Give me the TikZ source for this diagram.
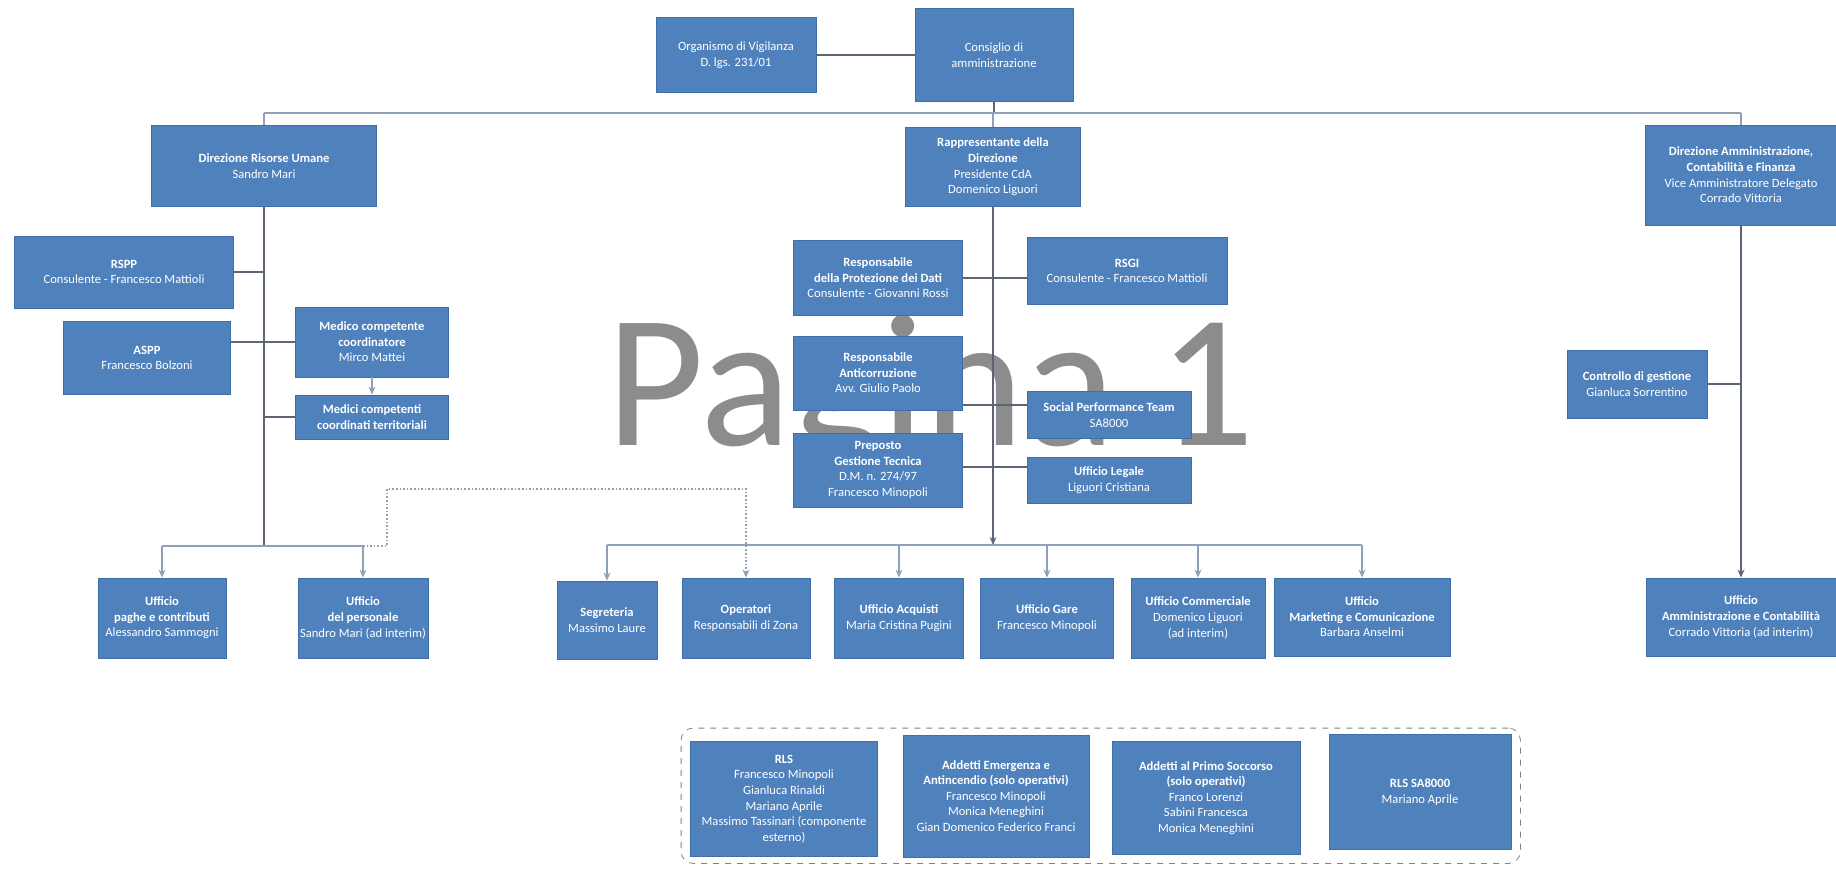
\documentclass[tikz,border=0pt]{standalone}
\usepackage{fontspec}
\setmainfont{Carlito}
\usepackage{tikz}
\usetikzlibrary{arrows.meta,calc,fit}
\definecolor{boxfill}{HTML}{4F81BD}
\definecolor{boxline}{HTML}{3F6FA6}
\definecolor{wirecol}{HTML}{5B6573}
\definecolor{buscol}{HTML}{8FA0B8}
\definecolor{wmcol}{HTML}{8C8C8C}
\tikzset{
	org chart/.style={
		x=.5pt, y=-.5pt,
		box/.style={draw=boxline, fill=boxfill, text=white, align=center,
			inner sep=1pt, font=\fontsize{6.3}{7.8}\selectfont},
		wire/.style={draw=wirecol, line width=.8pt},
		bus/.style={draw=buscol, line width=.8pt},
		ar/.style={-{Stealth[length=4pt,width=3.4pt]}},
		dots/.style={draw=buscol, line width=.8pt, densely dotted},
		group/.style={draw=wirecol!80, dashed, rounded corners=6pt,
			inner xsep=4.5pt, inner ysep=3pt},
		watermark/.style={text=wmcol, font=\fontsize{95}{95}\selectfont, inner sep=0pt}
		},
	wh/.style 2 args={minimum width=#1*.5pt, minimum height=#2*.5pt}
}

\begin{document}
\begin{tikzpicture}[org chart]
	\useasboundingbox (0,0) rectangle (1836,868);
	\node[watermark, anchor=base west] (wm) at (606,445) {Pagina 1};
	% vertice
	\node[box, wh={160}{75}] (odv) at (736,55) {Organismo di Vigilanza\\D. lgs. 231/01};
	\node[box, wh={158}{93}] (cda) at (994,55) {Consiglio di\\amministrazione};
	\node[box, wh={225}{81}] (dru) at (264,166) {\textbf{Direzione Risorse Umane}\\Sandro Mari};
	\node[box, wh={175}{79}] (rd) at (993,167) {\textbf{Rappresentante della}\\\textbf{Direzione}\\Presidente CdA\\Domenico Liguori};
	\node[box, wh={192}{100}] (dam) at (1741,175) {\textbf{Direzione Amministrazione,}\\\textbf{Contabilità e Finanza}\\Vice Amministratore Delegato\\Corrado Vittoria};
	% staff risorse umane
	\node[box, wh={219}{72}] (rspp) at (124,272) {\textbf{RSPP}\\Consulente - Francesco Mattioli};
	\node[box, wh={167}{73}] (aspp) at (147,358) {\textbf{ASPP}\\Francesco Bolzoni};
	\node[box, wh={153}{70}] (med) at (372,342) {\textbf{Medico competente}\\\textbf{coordinatore}\\Mirco Mattei};
	\node[box, wh={153}{44}] (medici) at (372,417) {\textbf{Medici competenti}\\\textbf{coordinati territoriali}};
	% staff direzione
	\node[box, wh={169}{75}] (rpd) at (878,278) {\textbf{Responsabile}\\\textbf{della Protezione dei Dati}\\Consulente - Giovanni Rossi};
	\node[box, wh={200}{67}] (rsgi) at (1127,271) {\textbf{RSGI}\\Consulente - Francesco Mattioli};
	\node[box, wh={169}{74}] (anti) at (878,373) {\textbf{Responsabile}\\\textbf{Anticorruzione}\\Avv. Giulio Paolo};
	\node[box, wh={164}{47}] (sp) at (1109,415) {\textbf{Social Performance Team}\\SA8000};
	\node[box, wh={169}{74}] (prep) at (878,470) {\textbf{Preposto}\\\textbf{Gestione Tecnica}\\D.M. n. 274/97\\Francesco Minopoli};
	\node[box, wh={164}{46}] (leg) at (1109,480) {\textbf{Ufficio Legale}\\Liguori Cristiana};
	\node[box, wh={140}{68}] (cdg) at (1637,384) {\textbf{Controllo di gestione}\\Gianluca Sorrentino};
	% uffici
	\node[box, wh={128}{80}] (paghe) at (162,618) {\textbf{Ufficio}\\\textbf{paghe e contributi}\\Alessandro Sammogni};
	\node[box, wh={124}{80}] (pers) at (363,618) {\textbf{Ufficio}\\\textbf{del personale}\\Sandro Mari (ad interim)};
	\node[box, wh={100}{78}] (seg) at (607,620) {\textbf{Segreteria}\\Massimo Laure};
	\node[box, wh={128}{80}] (op) at (746,618) {\textbf{Operatori}\\Responsabili di Zona};
	\node[box, wh={129}{80}] (acq) at (899,618) {\textbf{Ufficio Acquisti}\\Maria Cristina Pugini};
	\node[box, wh={133}{80}] (gare) at (1047,618) {\textbf{Ufficio Gare}\\Francesco Minopoli};
	\node[box, wh={134}{80}] (comm) at (1198,618) {\textbf{Ufficio Commerciale}\\Domenico Liguori\\(ad interim)};
	\node[box, wh={176}{78}] (mkt) at (1362,617) {\textbf{Ufficio}\\\textbf{Marketing e Comunicazione}\\Barbara Anselmi};
	\node[box, wh={190}{78}] (uam) at (1741,617) {\textbf{Ufficio}\\\textbf{Amministrazione e Contabilità}\\Corrado Vittoria (ad interim)};
	% sicurezza
	\node[box, wh={187}{115}] (rls) at (784,799) {\textbf{RLS}\\Francesco Minopoli\\Gianluca Rinaldi\\Mariano Aprile\\Massimo Tassinari (componente\\esterno)};
	\node[box, wh={186}{122}] (ae) at (996,796) {\textbf{Addetti Emergenza e}\\\textbf{Antincendio (solo operativi)}\\Francesco Minopoli\\Monica Meneghini\\Gian Domenico Federico Franci};
	\node[box, wh={188}{113}] (aps) at (1206,798) {\textbf{Addetti al Primo Soccorso}\\\textbf{(solo operativi)}\\Franco Lorenzi\\Sabini Francesca\\Monica Meneghini};
	\node[box, wh={182}{115}] (rlssa) at (1420,792) {\textbf{RLS SA8000}\\Mariano Aprile};
	\node[group, fit=(rls) (ae) (aps) (rlssa)] (sic) {};

	\coordinate (tbus) at (0,113);
	\coordinate (lbus) at (0,546);
	\coordinate (cbus) at (0,545);
	\coordinate (dt) at (387,489);
	\draw[wire] (odv.east) -- (cda.west);
	\draw[wire] (cda.south) -- (cda.south |- tbus);
	\draw[bus] (dru.north |- tbus) -- (dam.north |- tbus);
	\foreach \n in {dru,rd,dam}
		\draw[bus] (\n.north |- tbus) -- (\n.north);
	\draw[wire] (dru.south) -- (dru.south |- lbus);
	\draw[wire] (rspp.east) -- (rspp.east -| dru.south);
	\draw[wire] (aspp.east |- med.west) -- (med.west);
	\draw[wire] (medici.west) -- (medici.west -| dru.south);
	\draw[bus, ar] (med.south) -- (medici.north);
	\draw[wire, ar] (rd.south) -- (rd.south |- cbus);
	\draw[wire] (rpd.east) -- (rsgi.west |- rpd.east);
	\draw[wire] (anti.east |- 0,405) -- (sp.west |- 0,405);
	\draw[wire] (prep.east |- 0,467) -- (leg.west |- 0,467);
	\draw[wire, ar] (dam.south) -- (uam.north);
	\draw[wire] (cdg.east) -- (cdg.east -| dam.south);
	\draw[bus] (paghe.north |- lbus) -- (pers.north |- lbus);
	\foreach \n in {paghe,pers}
		\draw[bus, ar] (\n.north |- lbus) -- (\n.north);
	\draw[dots, ar] (pers.north |- lbus) -| (dt) -- (dt -| op.north) -- (op.north);
	\draw[bus] (seg.north |- cbus) -- (mkt.north |- cbus);
	\foreach \n in {seg,acq,gare,comm,mkt}
		\draw[bus, ar] (\n.north |- cbus) -- (\n.north);
\end{tikzpicture}
\end{document}
